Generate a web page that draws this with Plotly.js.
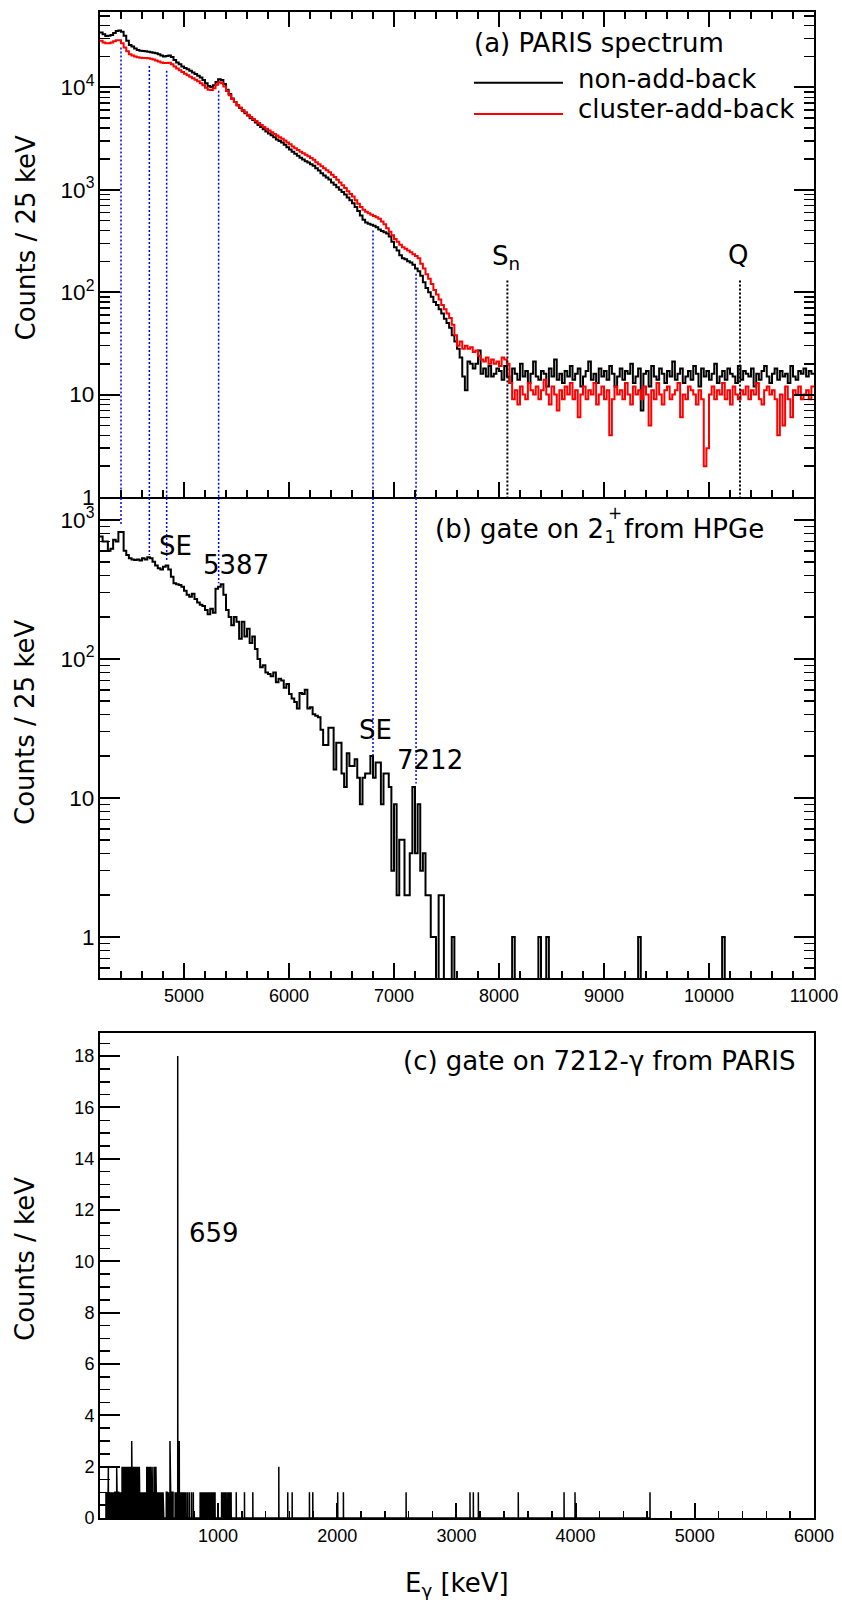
<!DOCTYPE html>
<html><head><meta charset="utf-8">
<script src="https://cdn.plot.ly/plotly-3.0.1.min.js"></script>
<style>html,body{margin:0;padding:0;background:#fff}</style>
</head><body><div id="chart" style="width:842px;height:1600px"></div>
<script>
// ---------- DATA ----------
const binStart = 4200;      // keV, low edge of first 25 keV bin
const binWidth = 25;        // keV

// (a) PARIS spectrum, non-add-back (counts / 25 keV)
const nonAddBack = [
34300,33000,31800,31900,32500,34000,35500,36000,35000,32000,
28500,26000,25000,24000,23200,22800,22600,22500,22300,22000,
21800,21500,21000,20500,20000,20200,20500,19800,18500,17500,
16800,16000,15500,15000,14500,14000,13500,13000,12500,11800,
11000,10300,10100,10500,11300,12000,11800,10800,9500,8600,
7800,7200,6700,6300,5900,5600,5300,5000,4800,4550,
4300,4100,3900,3700,3550,3400,3250,3100,3000,2900,
2750,2600,2480,2350,2250,2150,2050,1980,1900,1850,
1780,1720,1620,1540,1450,1380,1320,1260,1180,1120,
1060,1000,950,900,840,790,740,680,620,560,
510,480,465,455,445,430,410,395,385,375,
350,310,275,255,230,215,210,200,195,185,
170,160,145,125,110,100,90,80,75,68,
62,55,50,45,38,33,28,23,15,11,
21,20,18,20,27,16,18,15,19,15,
16,18,
17,14,19,15,13,18,16,14,20,15,
17,13,16,21,15,14,17,16,12,18,
15,22,14,16,13,17,15,19,14,16,
18,12,15,17,21,14,16,13,18,15,
17,14,19,16,12,15,18,14,17,16,
20,13,15,18,7,16,17,12,19,15,
14,18,16,13,17,15,21,14,16,18,
13,15,17,14,19,16,12,18,15,17,
14,16,20,13,15,17,14,18,16,15,
13,19,14,17,16,15,18,12,16,14,
17,19,15,13,16,18,14,17,15,16,
13,19,15,14,17,16,18,15,17,16
];

// (a) PARIS spectrum, cluster-add-back (counts / 25 keV)
const clusterAddBack = [
28500,27500,27000,27000,27500,28200,28900,28800,27000,24500,
22500,21000,20500,20000,19700,19500,19400,19400,19300,19000,
18700,18300,17900,17500,17300,17300,17400,16800,16000,15300,
14700,14100,13600,13100,12700,12300,11900,11500,11000,10500,
9900,9500,9400,9800,10600,11200,11000,10200,9200,8400,
7700,7200,6700,6350,6000,5700,5400,5150,4900,4700,
4500,4300,4100,3950,3800,3650,3500,3380,3250,3150,
3020,2900,2780,2650,2550,2450,2350,2270,2200,2120,
2040,1960,1860,1780,1700,1620,1550,1480,1400,1330,
1250,1180,1110,1040,970,910,860,790,730,680,
640,610,590,570,555,540,520,490,460,420,
390,360,330,310,290,275,265,255,245,235,
225,215,190,170,150,135,120,105,95,85,
75,68,62,56,48,38,30,33,28,30,
28,29,26,27,24,22,21,23,20,22,
20,21,19,23,22,20,
13,9,11,8,12,10,9,13,11,10,
12,9,11,14,10,8,12,10,7,11,
9,12,10,13,9,11,6,10,12,9,
11,10,13,8,10,12,9,11,4,9,
12,10,11,9,13,10,8,12,10,11,
9,12,10,5,11,9,13,10,8,11,
12,9,10,11,13,6,10,9,12,11,
10,8,11,9,2,3,10,12,9,11,
10,13,9,11,8,12,10,9,11,10,
12,9,11,10,13,9,8,11,12,10,
11,9,4,10,5,12,9,6,11,10,
12,9,10,11,9,12
];

// (b) gate on 2+1 from HPGe (counts / 25 keV)
const gateHPGe = [
760,700,700,600,620,720,700,820,820,600,
560,530,520,515,520,510,530,520,540,530,
500,470,450,440,460,470,440,390,350,345,
340,330,310,290,280,295,270,255,245,240,
225,210,230,215,320,330,345,290,225,200,
175,200,185,140,185,145,165,130,145,118,
100,87,90,80,78,75,80,68,72,70,
62,66,56,52,49,44,57,56,60,44,
45,40,39,38,31,24,24,32,32,16,
25,25,15,12,21,17,17,19,14,9,
14,15,15,20,14,18,18,9,15,15,
12,3,9,2,5,5,2,2,4,12,
4,9,3,4,2,2,1,1,0,2,
2,0,0,0,1,
0,0,0,0,0,0,0,0,0,0,0,0,0,0,0,0,0,0,0,0,0,0,
1,
0,0,0,0,0,0,0,0,0,
1,
0,0,
1,
0,0,0,0,0,0,0,0,0,0,0,0,0,0,0,0,0,0,0,0,0,0,0,0,0,0,0,0,0,0,0,0,0,0,
1,
0,0,0,0,0,0,0,0,0,0,0,0,0,0,0,0,0,0,0,0,0,0,0,0,0,0,0,0,0,0,0,
1,
0,0,0,0,0,0,0,0,0,0,0,0,0,0,0,0,0,0,0,0,0,0,0,0,0,0,0,0,0,0,0,0,0,0
];

// (c) gate on 7212-γ from PARIS : non-empty 1 keV bins
const gateEnergy = [
60,64,68,72,76,80,85,89,94,98,103,108,113,118,124,129,134,140,145,150,
155,160,166,171,176,181,186,191,195,199,203,207,211,215,219,223,227,231,235,239,
243,247,251,255,259,263,267,271,276,280,284,288,292,296,300,304,308,312,316,320,
324,328,332,336,340,344,348,352,356,360,364,368,372,376,380,385,390,395,402,406,
410,414,419,424,429,434,439,444,449,454,459,464,469,474,479,484,489,494,499,504,
509,514,519,524,529,534,539,544,
566,572,578,584,597,603,609,616,622,628,640,648,655,662,675,682,690,697,704,712,
723,731,745,760,778,793,850,858,866,875,885,895,905,915,925,935,945,955,965,975,
1030,1040,1050,1062,1075,1088,1100,1110,1153,1222,1292,1510,1585,1622,1767,1795,
2004,2052,2578,3114,3142,3184,3519,3903,3995,4624
];
const gateCounts = [
1,1,1,1,1,2,1,1,1,1,1,1,1,1,1,1,1,1,1,2,
1,1,1,1,1,1,1,1,2,2,2,2,2,2,2,2,2,1,2,2,
2,1,2,2,2,2,2,2,3,2,2,2,1,2,2,2,2,2,2,2,
2,2,2,2,2,1,1,1,1,1,1,1,1,1,1,1,1,1,2,1,
1,2,1,2,2,1,2,2,1,2,1,1,2,1,2,2,1,1,1,1,
1,1,1,1,1,1,1,1,
1,1,1,1,3,1,1,1,1,1,1,1,1,18,3,1,1,1,1,1,
1,1,1,1,1,1,1,1,1,1,1,1,1,1,1,1,1,1,1,1,
1,1,1,1,1,1,1,1,1,1,1,2,1,1,1,1,
1,1,1,1,1,1,1,1,1,1
];

// marker lines
const peakLineEnergy = [4400, 4670, 4835, 5330, 6800, 7210];
const peakLineTopA   = [24500, 16200, 14500, 9270, 400, 151];
const peakLineEndB   = [930, 560, 500, 350, 19.6, 12.7];
const thresholdEnergy = [8080, 10295];   // Sn, Q
const thresholdTop = 130;

// ---------- BUILD ----------
const W = 842, H = 1600;
const px = x => x / W;
const py = y => 1 - y / H;

function steps(counts, floor) {
  const x = [], y = [];
  for (let i = 0; i < counts.length; i++) {
    x.push(binStart + i * binWidth);
    y.push(Math.max(counts[i], floor));
  }
  x.push(binStart + counts.length * binWidth);
  y.push(Math.max(counts[counts.length - 1], floor));
  return {x, y};
}
const sA = steps(nonAddBack, 1e-3);
const sR = steps(clusterAddBack, 1e-3);
const sB = steps(gateHPGe, 1e-3);

const cx = [], cy = [];
for (let i = 0; i < gateEnergy.length; i++) {
  const e = gateEnergy[i];
  cx.push(e, e, e + 1, e + 1);
  cy.push(0, gateCounts[i], gateCounts[i], 0);
}

const blueAx = [], blueAy = [], blueBx = [], blueBy = [];
peakLineEnergy.forEach((e, i) => {
  blueAx.push(e, e, null); blueAy.push(peakLineTopA[i], 1, null);
  blueBx.push(e, e, null); blueBy.push(1e5, peakLineEndB[i], null);
});
const thrX = [], thrY = [];
thresholdEnergy.forEach(e => { thrX.push(e, e, null); thrY.push(thresholdTop, 1, null); });

const dotBlue = {color: '#0000ff', width: 1.5, dash: '2px,2px'};

const traces = [
  {x: sA.x, y: sA.y, xaxis: 'x', yaxis: 'y', mode: 'lines', line: {shape: 'hv', color: '#000', width: 2}},
  {x: sR.x, y: sR.y, xaxis: 'x', yaxis: 'y', mode: 'lines', line: {shape: 'hv', color: '#ff0000', width: 2}},
  {x: blueAx, y: blueAy, xaxis: 'x', yaxis: 'y', mode: 'lines', line: dotBlue},
  {x: thrX, y: thrY, xaxis: 'x', yaxis: 'y', mode: 'lines', line: {color: '#000', width: 2, dash: '2px,2px'}},
  {x: sB.x, y: sB.y, xaxis: 'x2', yaxis: 'y2', mode: 'lines', line: {shape: 'hv', color: '#000', width: 2}},
  {x: blueBx, y: blueBy, xaxis: 'x2', yaxis: 'y2', mode: 'lines', line: dotBlue},
  {x: cx, y: cy, xaxis: 'x3', yaxis: 'y3', mode: 'lines', line: {color: '#000', width: 1.5}}
];

const tickFont = {family: 'Liberation Sans, Arial, sans-serif', size: 18, color: '#000'};
const base = {showline: true, linecolor: '#000', linewidth: 2, ticks: 'inside', tickwidth: 2,
  tickcolor: '#000', showgrid: false, zeroline: false, tickfont: tickFont, fixedrange: true};
const xDom = [px(100), px(814)];
const minorX = {ticks: 'inside', dtick: 200, ticklen: 7, tickwidth: 1.5, tickcolor: '#000', showgrid: false};
const minorLog = {ticks: 'inside', dtick: 'D1', ticklen: 10, tickwidth: 1.5, tickcolor: '#000', showgrid: false};

const txt = (text, x, y, opts) => Object.assign({text, x: px(x), y: py(y), xref: 'paper', yref: 'paper',
  showarrow: false, xanchor: 'center', yanchor: 'middle',
  font: {family: 'DejaVu Sans', size: 26, color: '#000'}}, opts || {});

const layout = {
  width: W, height: H, margin: {l: 0, r: 0, t: 0, b: 0},
  paper_bgcolor: '#fff', plot_bgcolor: '#fff', showlegend: false,
  xaxis: Object.assign({}, base, {domain: xDom, anchor: 'y', range: [4200, 11000], tick0: 0, dtick: 1000,
    ticklen: 15, showticklabels: false, mirror: 'ticks', minor: minorX}),
  yaxis: Object.assign({}, base, {domain: [py(497), py(12)], anchor: 'x', type: 'log', range: [0, 4.736],
    dtick: 1, exponentformat: 'power', ticklen: 20, mirror: 'ticks', minor: minorLog}),
  xaxis2: Object.assign({}, base, {domain: xDom, anchor: 'y2', range: [4200, 11000], tick0: 0, dtick: 1000,
    ticklen: 15, tickformat: 'd', minor: minorX}),
  yaxis2: Object.assign({}, base, {domain: [py(978), py(497)], anchor: 'x2', type: 'log', range: [-0.295, 3.165],
    dtick: 1, exponentformat: 'power', ticklen: 20, mirror: 'ticks', minor: minorLog}),
  xaxis3: Object.assign({}, base, {domain: xDom, anchor: 'y3', range: [10, 6000], tick0: 0, dtick: 1000,
    ticklen: 15, mirror: true, tickformat: 'd', minor: minorX}),
  yaxis3: Object.assign({}, base, {domain: [py(1518), py(1033)], anchor: 'x3', range: [0, 18.9], tick0: 0, dtick: 2,
    ticklen: 20, mirror: true, minor: {ticks: 'inside', dtick: 0.5, ticklen: 10, tickwidth: 1.5, tickcolor: '#000', showgrid: false}}),
  shapes: [
    {type: 'line', xref: 'paper', yref: 'paper', x0: px(474), x1: px(563), y0: py(82.7), y1: py(82.7), line: {color: '#000', width: 2}},
    {type: 'line', xref: 'paper', yref: 'paper', x0: px(474), x1: px(563), y0: py(114), y1: py(114), line: {color: '#ff0000', width: 2}}
  ],
  annotations: [
    txt('(a) PARIS spectrum', 472, 43, {xanchor: 'left'}),
    txt('non-add-back', 576, 79, {xanchor: 'left'}),
    txt('cluster-add-back', 576, 109, {xanchor: 'left'}),
    txt('S<sub>n</sub>', 506, 257),
    txt('Q', 738, 255),
    txt('(b) gate on 2<sub>1</sub> from HPGe', 433, 530, {xanchor: 'left'}),
    txt('+', 615, 513, {font: {family: 'DejaVu Sans', size: 17, color: '#000'}}),
    txt('SE', 175.5, 546),
    txt('5387', 236, 565),
    txt('SE', 375, 730),
    txt('7212', 429.5, 760),
    txt('(c) gate on 7212-γ from PARIS', 797, 1061, {xanchor: 'right'}),
    txt('659', 187, 1233, {xanchor: 'left'}),
    txt('Counts / 25 keV', 25, 237.5, {textangle: -90}),
    txt('Counts / 25 keV', 25, 722, {textangle: -90}),
    txt('Counts / keV', 25, 1259, {textangle: -90}),
    txt('E<sub>γ</sub> [keV]', 456.5, 1584)
  ]
};

Plotly.newPlot('chart', traces, layout, {displayModeBar: false, staticPlot: true});
</script>
</body></html>
